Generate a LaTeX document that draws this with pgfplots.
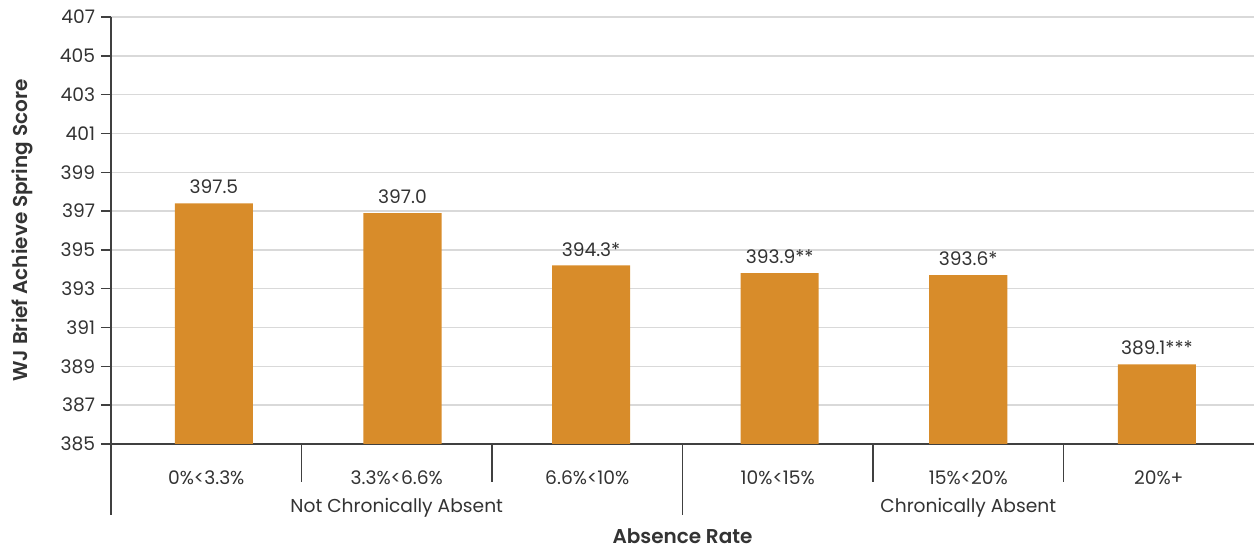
\documentclass[border=0pt]{standalone}
\usepackage{pgfplots}
\pgfplotsset{compat=1.18}
\usepackage{fontspec}
\setmainfont{Poppins}[BoldFont={Poppins SemiBold}]
\definecolor{barc}{HTML}{D88C2A}
\definecolor{axisc}{HTML}{404040}
\definecolor{gridc}{HTML}{D9D9D9}
\definecolor{txtc}{HTML}{333333}
\pgfplotstableread{
x     y      lab
0.04  397.4  397.5
1.03  396.9  397.0
2.02  394.2  394.3*
3.01  393.8  393.9**
4.00  393.7  393.6*
4.99  389.1  389.1***
}\scores
\begin{document}
\begin{tikzpicture}
\path[use as bounding box] (-66.6pt,-62.4pt) rectangle (685.8pt,266.4pt);
\begin{axis}[
    at={(0,0)}, anchor=south west,
    scale only axis,
    width=685.8pt, height=256.2pt,
    clip=false,
    enlargelimits=false,
    ymin=385, ymax=407,
    ytick={385,387,...,407},
    xmin=-0.5, xmax=5.5,
    xtick={0,...,5},
    xticklabels={0\%<3.3\%, 3.3\%<6.6\%, 6.6\%<10\%, 10\%<15\%, 15\%<20\%, 20\%+},
    axis x line*=bottom, axis y line*=left,
    axis line style={axisc, line width=0.9pt, -},
    ymajorgrids, grid style={gridc, line width=0.9pt},
    ytick style={axisc, line width=0.9pt},
    tick align=outside, major tick length=6pt,
    xtick style={draw=none},
    /pgf/number format/assume math mode=true,
    ticklabel style={font=\fontsize{11.2}{13}\selectfont, text=txtc},
    xticklabel style={anchor=base, yshift=-18.5pt},
    yticklabel style={/pgf/number format/1000 sep={}},
    ylabel={WJ Brief Achieve Spring Score},
    ylabel style={at={(axis description cs:0,0.5)}, anchor=center, yshift=53.4pt,
        font=\fontsize{12}{14}\selectfont\bfseries, text=txtc},
    ybar, bar width=0.41,
    nodes near coords,
    point meta=explicit symbolic,
    nodes near coords style={font=\fontsize{11.2}{13}\selectfont, text=txtc, yshift=2pt},
]
\addplot[fill=barc, draw=none] table[x=x, y=y, meta=lab] {\scores};
\draw[axisc, line width=0.9pt] (axis cs:0.5,385) -- ([yshift=-22.8pt]axis cs:0.5,385);
\draw[axisc, line width=0.9pt] (axis cs:1.5,385) -- ([yshift=-22.8pt]axis cs:1.5,385);
\draw[axisc, line width=0.9pt] (axis cs:3.5,385) -- ([yshift=-22.8pt]axis cs:3.5,385);
\draw[axisc, line width=0.9pt] (axis cs:4.5,385) -- ([yshift=-22.8pt]axis cs:4.5,385);
\draw[axisc, line width=0.9pt] (axis cs:-0.5,385) -- ([yshift=-42.6pt]axis cs:-0.5,385);
\draw[axisc, line width=0.9pt] (axis cs:2.5,385) -- ([yshift=-42.6pt]axis cs:2.5,385);
\node[font=\fontsize{11.2}{13}\selectfont, text=txtc, anchor=center] at ([yshift=-38.4pt]axis cs:1,385) {Not Chronically Absent};
\node[font=\fontsize{11.2}{13}\selectfont, text=txtc, anchor=center] at ([yshift=-38.4pt]axis cs:4,385) {Chronically Absent};
\node[font=\fontsize{12}{14}\selectfont\bfseries, text=txtc, anchor=center, inner sep=1pt] at ([yshift=-55.2pt]axis cs:2.5,385) {Absence Rate};
\end{axis}
\end{tikzpicture}
\end{document}
